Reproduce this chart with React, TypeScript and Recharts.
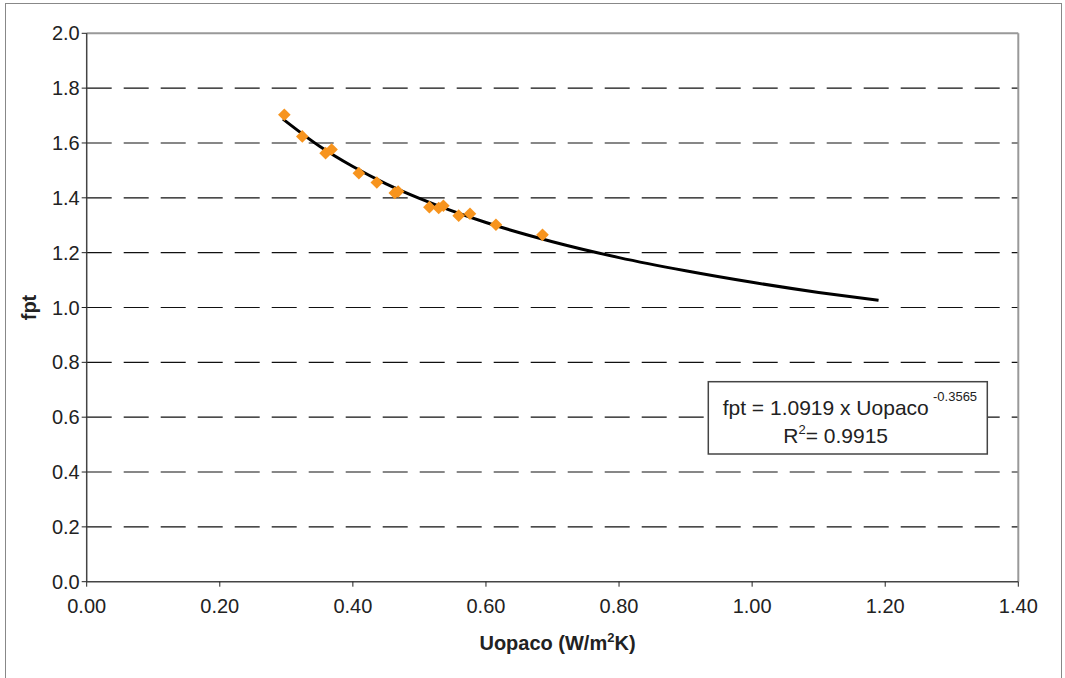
import React from 'react';
import { ComposedChart, Scatter, Line, XAxis, YAxis, CartesianGrid, ReferenceLine, Label } from 'recharts';

const uopaco = [0.297, 0.324, 0.359, 0.368, 0.409, 0.436, 0.463, 0.468, 0.515, 0.529, 0.536, 0.559, 0.576, 0.615, 0.685];
const fpt = [1.703, 1.624, 1.563, 1.576, 1.49, 1.456, 1.418, 1.423, 1.366, 1.363, 1.371, 1.335, 1.342, 1.302, 1.265];

const trendU = [0.295, 0.35, 0.4, 0.45, 0.5, 0.6, 0.7, 0.8, 0.9, 1.0, 1.1, 1.19];
const trendFpt = [1.687, 1.588, 1.514, 1.451, 1.398, 1.31, 1.24, 1.182, 1.134, 1.092, 1.055, 1.026];

const xTicks = [0, 0.2, 0.4, 0.6, 0.8, 1.0, 1.2, 1.4];
const yTicks = [0, 0.2, 0.4, 0.6, 0.8, 1.0, 1.2, 1.4, 1.6, 1.8, 2.0];
const gridValues = [0.2, 0.4, 0.6, 0.8, 1.0, 1.2, 1.4, 1.6, 1.8];

const pointData = uopaco.map((u, i) => ({ x: u, y: fpt[i] }));
const trendData = trendU.map((u, i) => ({ x: u, t: trendFpt[i] }));

const FONT = '"Liberation Sans", Arial, Helvetica, sans-serif';

const Diamond = (props: any) => {
  const { cx, cy } = props;
  const r = 6.3;
  return <polygon points={`${cx},${cy - r} ${cx + r},${cy} ${cx},${cy + r} ${cx - r},${cy}`} fill="#F7941E" />;
};

export default function App() {
  return (
    <div style={{ position: 'absolute', left: 0, top: 0, width: 1065, height: 678, overflow: 'hidden', background: '#fff', fontFamily: FONT }}>
      <div style={{ position: 'absolute', left: 5, top: 3, width: 1057, height: 700, border: '1.5px solid #888', boxSizing: 'border-box' }} />
      <div style={{ position: 'absolute', left: 0, top: 0 }}>
        <ComposedChart width={1065} height={678} margin={{ top: 33.3, right: 46.7, left: 6.7, bottom: 36.3 }}>
          <CartesianGrid horizontal vertical={false} horizontalValues={gridValues} stroke="#111" strokeDasharray="25 12" strokeWidth={1.2} />
          <ReferenceLine y={2} stroke="#999" strokeWidth={2} />
          <ReferenceLine x={1.4} stroke="#999" strokeWidth={2} />
          <XAxis
            type="number"
            dataKey="x"
            domain={[0, 1.4]}
            ticks={xTicks}
            interval={0}
            allowDataOverflow
            tickFormatter={(v: number) => v.toFixed(2)}
            height={60}
            tickSize={5}
            tickMargin={12}
            axisLine={{ stroke: '#444', strokeWidth: 1.5 }}
            tickLine={{ stroke: '#222', strokeWidth: 1 }}
            tick={{ fill: '#222', fontSize: 20, fontFamily: FONT }}
          >
            <Label
              content={(p: any) => {
                const vb = p.viewBox || { x: 86.7, y: 581.7, width: 931.6 };
                return (
                  <text x={vb.x + vb.width / 2 + 5} y={vb.y + 68} textAnchor="middle" fontFamily={FONT} fontWeight="bold" fontSize={20} fill="#222">
                    Uopaco (W/m<tspan fontSize={13} dy={-8}>2</tspan><tspan dy={8}>K)</tspan>
                  </text>
                );
              }}
            />
          </XAxis>
          <YAxis
            type="number"
            domain={[0, 2]}
            ticks={yTicks}
            interval={0}
            allowDataOverflow
            tickFormatter={(v: number) => v.toFixed(1)}
            width={80}
            tickSize={5}
            tickMargin={2}
            axisLine={{ stroke: '#444', strokeWidth: 1.5 }}
            tickLine={{ stroke: '#222', strokeWidth: 1 }}
            tick={{ fill: '#222', fontSize: 20, fontFamily: FONT }}
          >
            <Label
              content={(p: any) => {
                const vb = p.viewBox || { x: 6.7, y: 33.3, width: 80, height: 548.4 };
                const x = vb.x + 29;
                const y = vb.y + vb.height / 2;
                return (
                  <text x={x} y={y} transform={`rotate(-90, ${x}, ${y})`} textAnchor="middle" fontFamily={FONT} fontWeight="bold" fontSize={20} fill="#222">
                    fpt
                  </text>
                );
              }}
            />
          </YAxis>
          <Scatter data={pointData} dataKey="y" shape={Diamond} isAnimationActive={false} />
          <Line data={trendData} dataKey="t" type="monotone" stroke="#000" strokeWidth={3} dot={false} activeDot={false} isAnimationActive={false} />
        </ComposedChart>
      </div>
      <svg width={1065} height={678} style={{ position: 'absolute', left: 0, top: 0, pointerEvents: 'none' }}>
        <rect x={708.3} y={381.7} width={279} height={72.3} fill="#fff" stroke="#444" strokeWidth={1.5} />
        <text x={722.7} y={415} fontFamily={FONT} fontSize={21} fill="#222">
          fpt = 1.0919 x Uopaco
        </text>
        <text x={933} y={400.5} fontFamily={FONT} fontSize={13} fill="#222">
          -0.3565
        </text>
        <text x={783.3} y={443.3} fontFamily={FONT} fontSize={21} fill="#222">
          R<tspan fontSize={13} dy={-9}>2</tspan><tspan dy={9}>= 0.9915</tspan>
        </text>
      </svg>
    </div>
  );
}
